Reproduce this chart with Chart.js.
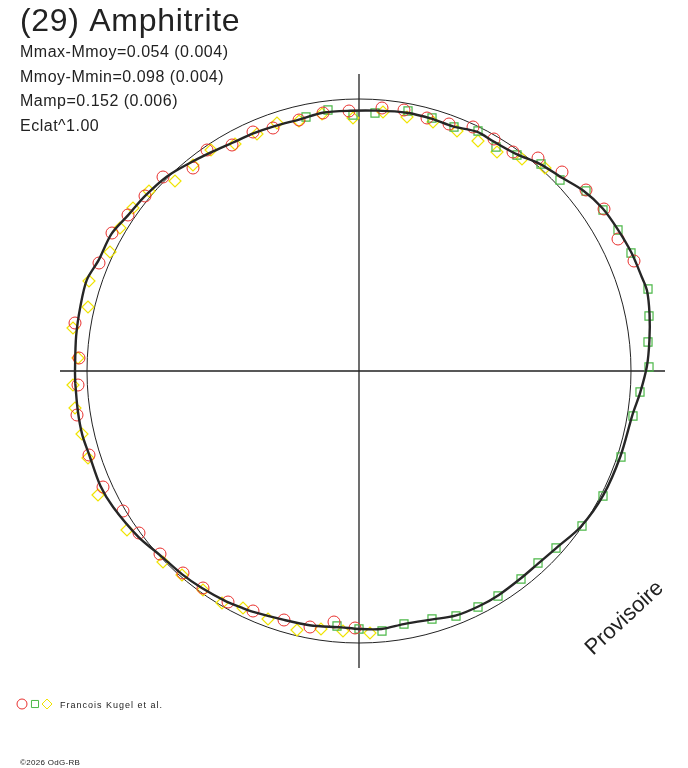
<!DOCTYPE html>
<html>
<head>
<meta charset="utf-8">
<title>(29) Amphitrite</title>
<script src="https://cdn.jsdelivr.net/npm/chart.js@4.4.1/dist/chart.umd.min.js"></script>
<style>
  html, body { margin: 0; padding: 0; background: #fff; }
  canvas { display: block; }
</style>
</head>
<body>
<canvas id="myChart" width="688" height="768"></canvas>
<script>
// polar lightcurve: phase angle (deg, ccw from +x) and radius, same units as the reference circle
const refRadius = 272;
const curveAngles = [-177.5, -172, -167, -162.7, -156, -151, -143, -137, -131, -126, -120, -116, -113.7,
    -107, -101, -94, -90, -85, -80, -73.5, -68.5, -63, -58, -52, -47, -42, -35, -27, -18, -9, -4.4,
    1, 6, 11, 15.6, 18.4, 23.5, 28.7, 33.7, 38.7, 43.8, 48.8, 54, 59.6, 63.8, 69, 74, 79.5, 86, 92,
    98, 103, 109, 114, 119, 124, 129, 134.7, 140.7, 145.9, 151, 157, 161.5, 167, 173, 180];
const curveRadii = [284, 284, 284, 282.5, 283, 281, 276, 271, 269.5, 268, 266, 264, 263,
    260, 259, 257, 258, 259, 257, 259, 263, 264, 264, 263, 263, 265, 271, 274, 275, 277, 282,
    288, 292, 296, 299, 298, 297, 295, 293, 288, 280, 275, 268, 266, 266.7, 262, 262.5, 262.7, 261, 260.4,
    260.8, 258.5, 259, 260, 261, 264, 268, 273.4, 276.4, 278.5, 283, 283, 287, 286, 285, 284];

// observations (x, y) in the same units, origin at the plot centre
const redCircles = [
    [-106, 239], [-86, 243], [-60, 251], [-36, 258], [-10, 260], [23, 263], [45, 261], [68, 253],
    [90, 247], [114, 244], [135, 232], [154, 219], [179, 213], [203, 199], [227, 181], [245, 162],
    [259, 132], [275, 110],
    [-156, -217], [-131, -231], [-106, -240], [-75, -249], [-49, -256], [-25, -251], [-4, -257],
    [-281, -14], [-282, -44], [-270, -84], [-256, -116], [-236, -140], [-220, -162], [-199, -183],
    [-176, -202], [-284, 48], [-280, 13], [-260, 108], [-247, 138], [-231, 156], [-214, 175],
    [-196, 194], [-166, 203], [-152, 221], [-127, 226]
];
const greenSquares = [
    [-53, 254], [-31, 261], [-6, 256], [16, 258], [49, 260], [73, 253], [95, 244], [119, 240],
    [137, 224], [158, 216], [182, 207], [201, 191], [227, 180], [244, 161], [259, 141], [272, 118],
    [289, 82], [290, 55], [289, 29], [290, 4], [281, -21], [274, -45], [262, -86], [244, -125],
    [223, -155], [197, -177], [179, -192], [162, -208], [139, -225], [119, -236], [97, -245],
    [73, -248], [45, -253], [23, -260], [0, -258], [-22, -255]
];
const yellowDiamonds = [
    [-102, 237], [-82, 248], [-60, 250], [-37, 257], [-6, 253], [24, 259], [48, 254], [74, 249],
    [98, 240], [119, 230], [138, 219], [163, 212], [186, 203],
    [-137, -232], [-116, -237], [-91, -248], [-62, -259], [-38, -258], [-16, -260], [11, -262],
    [-156, -219], [-286, -14], [-284, -37], [-277, -63], [-271, -87], [-261, -124], [-232, -159],
    [-196, -191], [-177, -204],
    [-286, 43], [-281, 13], [-271, 64], [-270, 90], [-249, 119], [-239, 143], [-226, 163],
    [-210, 180], [-184, 190], [-166, 206], [-148, 221], [-124, 227]
];

const titleText = '(29) Amphitrite';
const statLines = ['Mmax-Mmoy=0.054 (0.004)', 'Mmoy-Mmin=0.098 (0.004)', 'Mamp=0.152 (0.006)', 'Eclat^1.00'];
const observerText = 'Francois Kugel et al.';
const creditText = '\u00a92026 OdG-RB';

const RED = '#e8302e', GREEN = '#4cb848', YELLOW = '#f0e400', INK = '#222';
const FONT = '"Liberation Sans", Arial, sans-serif';

const curvePts = curveAngles.map((a, i) => ({
    x: curveRadii[i] * Math.cos(a * Math.PI / 180),
    y: curveRadii[i] * Math.sin(a * Math.PI / 180)
}));
curvePts.push(curvePts[0]);

const toPts = arr => arr.map(p => ({ x: p[0], y: p[1] }));

// axes cross + reference circle, drawn under the data
const framePlugin = {
    id: 'frame',
    beforeDatasetsDraw(chart) {
        const { ctx, scales: { x, y } } = chart;
        const cx = x.getPixelForValue(0), cy = y.getPixelForValue(0);
        ctx.save();
        ctx.strokeStyle = INK;
        ctx.lineWidth = 1.3;
        ctx.beginPath();
        ctx.moveTo(x.getPixelForValue(-299), cy);
        ctx.lineTo(x.getPixelForValue(306), cy);
        ctx.moveTo(cx, y.getPixelForValue(297));
        ctx.lineTo(cx, y.getPixelForValue(-297));
        ctx.stroke();
        ctx.lineWidth = 1;
        ctx.beginPath();
        ctx.arc(cx, cy, x.getPixelForValue(refRadius) - cx, 0, Math.PI * 2);
        ctx.stroke();
        ctx.restore();
    }
};

// titles, legend, stamp
const textPlugin = {
    id: 'texts',
    afterDraw(chart) {
        const ctx = chart.ctx;
        ctx.save();
        ctx.fillStyle = INK;
        ctx.textBaseline = 'alphabetic';
        ctx.font = '32px ' + FONT;
        ctx.letterSpacing = '0.7px';
        ctx.fillText(titleText, 20, 31);
        ctx.font = '16px ' + FONT;
        ctx.letterSpacing = '0.5px';
        statLines.forEach((s, i) => ctx.fillText(s, 20, 57 + i * 24.7));

        const lw = { pointStyle: 'circle', radius: 5, rotation: 0, borderWidth: 1 };
        ctx.lineWidth = 1;
        ctx.strokeStyle = RED; ctx.fillStyle = 'rgba(0,0,0,0)';
        Chart.helpers.drawPoint(ctx, lw, 22, 704);
        ctx.strokeStyle = GREEN;
        Chart.helpers.drawPoint(ctx, { ...lw, pointStyle: 'rect' }, 35, 704);
        ctx.strokeStyle = YELLOW;
        Chart.helpers.drawPoint(ctx, { ...lw, pointStyle: 'rectRot' }, 47, 704);

        ctx.fillStyle = INK;
        ctx.font = '9px ' + FONT;
        ctx.letterSpacing = '1px';
        ctx.fillText(observerText, 60, 708);
        ctx.font = '8px ' + FONT;
        ctx.letterSpacing = '0.3px';
        ctx.fillText(creditText, 20, 765);

        ctx.letterSpacing = '0px';
        ctx.font = '22px ' + FONT;
        ctx.translate(593, 656);
        ctx.rotate(-43 * Math.PI / 180);
        ctx.fillText('Provisoire', 0, 0);
        ctx.restore();
    }
};

const ctx = document.getElementById('myChart').getContext('2d');
const chart = new Chart(ctx, {
    type: 'scatter',
    data: {
        datasets: [{
            label: 'model',
            data: curvePts,
            showLine: true,
            pointRadius: 0,
            borderColor: '#262626',
            borderWidth: 2.4,
            tension: 0.3
        }, {
            label: 'red',
            data: toPts(redCircles),
            pointStyle: 'circle',
            pointRadius: 6,
            borderColor: RED,
            backgroundColor: 'rgba(0,0,0,0)',
            borderWidth: 1
        }, {
            label: 'green',
            data: toPts(greenSquares),
            pointStyle: 'rect',
            pointRadius: 5.7,
            borderColor: GREEN,
            backgroundColor: 'rgba(0,0,0,0)',
            borderWidth: 1.2
        }, {
            label: 'yellow',
            data: toPts(yellowDiamonds),
            pointStyle: 'rectRot',
            pointRadius: 6,
            borderColor: YELLOW,
            backgroundColor: 'rgba(0,0,0,0)',
            borderWidth: 1.2
        }]
    },
    options: {
        responsive: false,
        animation: false,
        devicePixelRatio: 1,
        layout: { padding: 0, autoPadding: false },
        plugins: { legend: { display: false }, tooltip: { enabled: false } },
        scales: {
            x: { type: 'linear', min: -359, max: 329, display: false },
            y: { type: 'linear', min: -397, max: 371, display: false }
        }
    },
    plugins: [framePlugin, textPlugin]
});
</script>
</body>
</html>
